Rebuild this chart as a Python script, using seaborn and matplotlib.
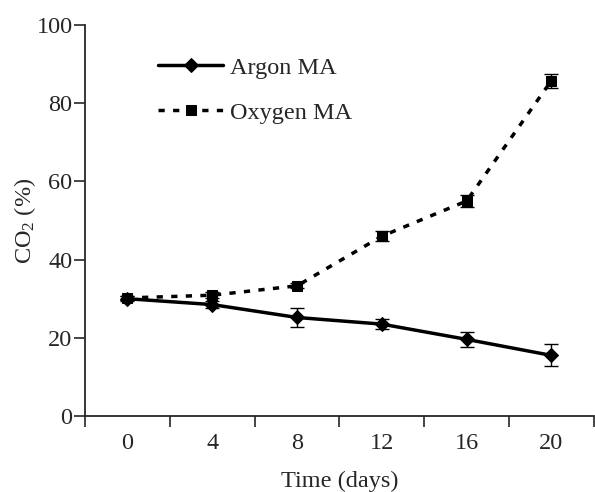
import matplotlib
matplotlib.use("Agg")
import matplotlib.pyplot as plt
import seaborn as sns
import pandas as pd

days = [0, 4, 8, 12, 16, 20]
argon_co2 = [30.0, 28.5, 25.2, 23.5, 19.6, 15.5]
argon_err = [0.6, 1.0, 2.4, 1.2, 2.0, 2.8]
oxygen_co2 = [30.2, 30.9, 33.3, 46.0, 55.0, 85.8]
oxygen_err = [0.5, 0.8, 0.6, 1.2, 1.5, 1.8]
series_names = ["Argon MA", "Oxygen MA"]
x_ticks = [-2, 2, 6, 10, 14, 18, 22]
x_labels = ["0", "4", "8", "12", "16", "20"]
y_ticks = [0, 20, 40, 60, 80, 100]

FS = 17.5

sns.set_style("ticks")
plt.rcParams["font.family"] = ["Liberation Serif", "DejaVu Serif"]
plt.rcParams["mathtext.fontset"] = "custom"
plt.rcParams["mathtext.rm"] = "Liberation Serif"
plt.rcParams["mathtext.it"] = "Liberation Serif:italic"

df = pd.DataFrame({
    "day": days * 2,
    "co2": argon_co2 + oxygen_co2,
    "err": argon_err + oxygen_err,
    "series": [series_names[0]] * len(days) + [series_names[1]] * len(days),
})

fig = plt.figure(figsize=(5.95, 4.92), dpi=100)
ax = fig.add_axes([0.143, 0.1545, 0.855, 0.7945])

sns.lineplot(
    data=df, x="day", y="co2", hue="series", style="series",
    palette=["black", "black"],
    markers={"Argon MA": "D", "Oxygen MA": "s"},
    dashes={"Argon MA": "", "Oxygen MA": (1.8, 2.4)},
    markersize=7.5, linewidth=2.5, markeredgecolor="black",
    ax=ax, legend=True,
)

for name in series_names:
    sub = df[df["series"] == name]
    ax.errorbar(sub["day"], sub["co2"], yerr=sub["err"], fmt="none",
                ecolor="black", elinewidth=1.0, capsize=5, capthick=1.0, zorder=3)

ax.set_xlim(-2, 22)
ax.set_ylim(0, 100)
ax.set_xticks(x_ticks)
ax.set_xticklabels([])
ax.set_xticks(days, minor=True)
ax.set_xticklabels(x_labels, minor=True)
ax.tick_params(axis="x", which="minor", length=0, pad=12, labelsize=FS)
ax.tick_params(axis="x", which="major", length=8, width=1.2, direction="out")
ax.set_yticks(y_ticks)
ax.tick_params(axis="y", length=8, width=1.2, direction="out", labelsize=FS, pad=1)
for s in ["top", "right"]:
    ax.spines[s].set_visible(False)
for s in ["left", "bottom"]:
    ax.spines[s].set_linewidth(1.3)

ax.set_xlabel("Time (days)", fontsize=FS, labelpad=12)
ax.set_ylabel("CO$_2$ (%)", fontsize=FS, labelpad=-1)

leg = ax.legend(title=None, frameon=False, fontsize=FS, loc="upper left",
                bbox_to_anchor=(0.1, 0.975), handlelength=2.7, handletextpad=0.25,
                labelspacing=0.95)
for h in leg.legend_handles:
    h.set_color("black")
    h.set_linewidth(2.5)

fig.savefig("out.png", dpi=100)
